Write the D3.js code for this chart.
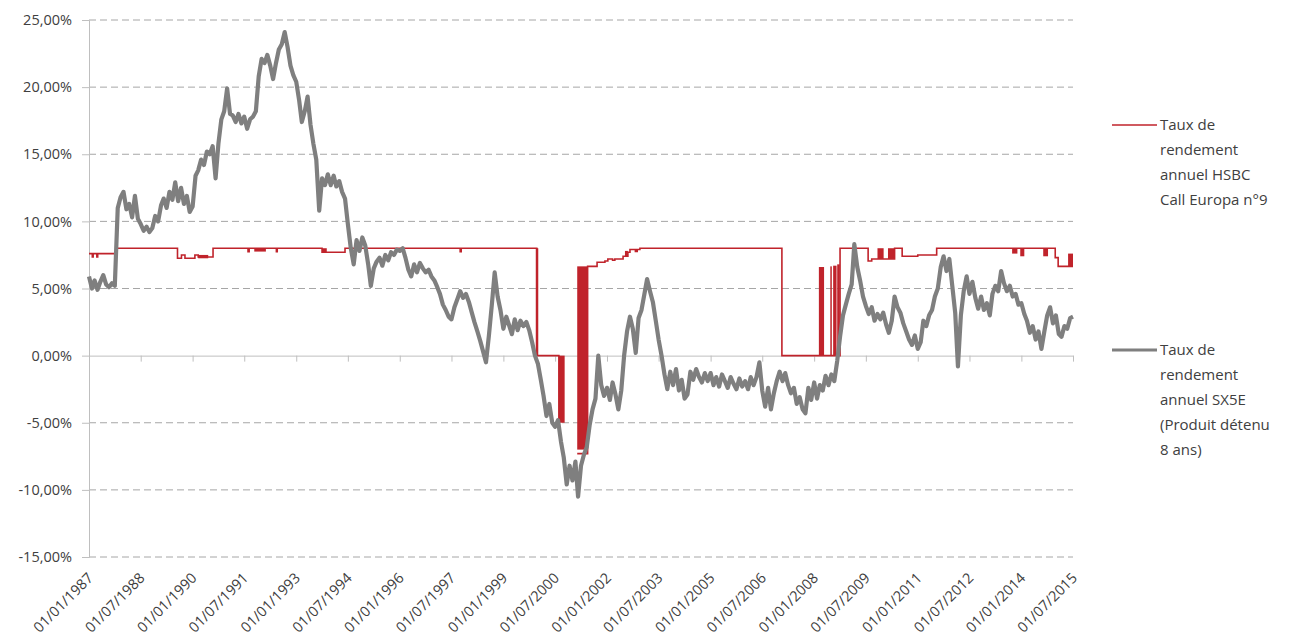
<!DOCTYPE html>
<html>
<head>
<meta charset="utf-8">
<script src="https://cdnjs.cloudflare.com/ajax/libs/d3/7.8.5/d3.min.js"></script>
<style>
  body { margin: 0; background: #ffffff; }
  svg { font-family: 'Open Sans', sans-serif; }
</style>
</head>
<body>
<div id="graph"></div>
<script>
// y ticks (in %) and x tick labels, as printed on the chart
var yTicks = [-15, -10, -5, 0, 5, 10, 15, 20, 25];
var xTickLabels = ["01/01/1987", "01/07/1988", "01/01/1990", "01/07/1991", "01/01/1993",
    "01/07/1994", "01/01/1996", "01/07/1997", "01/01/1999", "01/07/2000", "01/01/2002",
    "01/07/2003", "01/01/2005", "01/07/2006", "01/01/2008", "01/07/2009", "01/01/2011",
    "01/07/2012", "01/01/2014", "01/07/2015"];

// SX5E annual return (%), one value per month starting 01/01/1987
var sx5eStart = "01/01/1987";
var sx5eValues = [
    5.9, 5.0, 5.6, 4.9, 5.5, 6.0, 5.3, 5.1, 5.4, 5.2, 11.0, 11.8,
    12.2, 10.9, 11.3, 10.3, 11.9, 10.2, 9.8, 9.3, 9.6, 9.2, 9.5, 10.4,
    10.0, 11.2, 11.7, 11.0, 12.2, 11.6, 12.9, 11.5, 12.5, 11.3, 11.9, 10.7,
    11.1, 13.4, 13.8, 14.6, 14.2, 15.2, 15.0, 15.6, 13.2, 15.8, 17.6, 18.2,
    19.9, 18.0, 17.9, 17.4, 18.0, 17.3, 17.8, 16.9, 17.6, 17.8, 18.2, 20.8,
    22.1, 21.8, 22.4, 21.6, 20.6, 21.8, 22.8, 23.2, 24.1, 23.0, 21.6, 20.9,
    20.4, 19.0, 17.4, 18.2, 19.3, 17.2, 15.8, 14.6, 10.8, 13.2, 12.7, 13.5,
    12.7, 13.4, 12.6, 13.0, 12.2, 11.7, 9.8, 8.0, 6.8, 8.6, 7.8, 8.8,
    8.2, 6.8, 5.2, 6.5, 7.0, 7.3, 6.7, 7.5, 7.1, 7.7, 7.5, 7.9,
    7.8, 8.0, 7.3, 6.4, 5.9, 6.8, 6.2, 6.9, 6.5, 6.2, 6.4, 5.9,
    5.6, 5.1, 4.6, 3.8, 3.4, 2.9, 2.7, 3.6, 4.2, 4.8, 4.3, 4.6,
    4.0, 3.2, 2.5, 1.8, 1.1, 0.3, -0.5, 1.5, 3.8, 6.2, 4.4, 3.4,
    2.0, 2.9, 2.3, 1.6, 2.7, 1.9, 2.6, 2.2, 2.5, 1.9, 1.0, 0.0,
    -0.6, -1.8, -3.0, -4.5, -3.6, -5.0, -5.3, -4.8, -6.4, -7.6, -9.6, -8.2,
    -9.3, -7.9, -10.5, -8.2, -7.4, -6.8, -5.2, -4.0, -3.2, 0.0, -2.2, -3.0,
    -2.4, -3.3, -2.0, -2.9, -4.0, -2.6, 0.0, 1.8, 2.9, 2.0, 0.2, 2.8,
    3.4, 4.6, 5.7, 4.8, 4.0, 2.6, 1.2, 0.0, -1.4, -2.5, -1.2, -2.2,
    -1.0, -2.6, -1.8, -3.2, -2.9, -1.2, -1.8, -1.0, -1.6, -2.0, -1.3, -1.9,
    -1.3, -2.2, -1.6, -2.3, -1.4, -1.9, -2.4, -1.6, -2.1, -2.5, -1.7, -2.3,
    -1.9, -2.5, -1.6, -2.2, -1.6, -0.5, -2.6, -3.8, -2.4, -4.0, -2.8, -1.9,
    -1.2, -1.9, -1.3, -2.2, -2.8, -2.4, -3.6, -3.1, -4.0, -4.3, -2.4, -3.3,
    -2.0, -3.2, -2.2, -2.6, -1.5, -2.2, -1.4, -1.9, -0.4, 1.4, 3.0, 3.8,
    4.6, 5.3, 8.3, 6.6, 5.6, 4.4, 3.7, 3.1, 3.6, 2.6, 3.1, 2.7,
    3.2, 2.3, 1.7, 2.6, 4.4, 3.6, 3.2, 2.4, 1.8, 1.2, 0.8, 1.5,
    0.5, 1.0, 2.6, 2.2, 3.0, 3.4, 4.4, 5.0, 6.6, 7.4, 6.3, 7.2,
    5.2, 3.2, -0.8, 3.0, 4.8, 5.9, 4.6, 5.5, 4.3, 3.5, 4.4, 3.4,
    3.9, 3.0, 4.6, 5.2, 4.8, 6.3, 5.4, 4.8, 5.2, 4.4, 4.6, 3.8,
    3.9, 3.1, 2.6, 1.7, 2.2, 1.2, 1.8, 0.5, 1.8, 3.0, 3.6, 2.4,
    3.0, 1.6, 1.4, 2.2, 2.0, 2.8, 2.9
];

// HSBC Call Europa n°9 : step levels [date, %]; null = hidden under the SX5E line
var hsbcSteps = [
    ["01/01/1987", 7.6], ["05/02/1987", 7.35], ["14/02/1987", 7.6], ["25/03/1987", 7.35],
    ["03/04/1987", 7.6], ["20/10/1987", 8.0], ["25/07/1989", 7.25], ["05/09/1989", 7.5],
    ["12/10/1989", 7.25], ["25/01/1990", 7.5], ["01/03/1990", 7.35], ["05/08/1990", 8.0],
    ["10/08/1991", 7.75], ["22/08/1991", 8.0], ["05/06/1992", 7.75], ["14/06/1992", 8.0],
    ["01/10/1993", 7.7], ["01/06/1994", 8.0], ["01/10/1997", 7.75], ["12/10/1997", 8.0],
    ["20/12/1999", 0.0], ["10/08/2000", -5.0], ["10/10/2000", null],
    ["20/02/2001", -7.3],
    ["10/06/2001", 6.65], ["18/09/2001", 6.95], ["10/12/2001", 7.05], ["10/01/2002", 7.2],
    ["01/03/2002", 7.1], ["25/03/2002", 7.2], ["20/06/2002", 7.4], ["10/08/2002", 7.7],
    ["01/09/2002", 7.9], ["15/12/2002", 8.0], ["25/01/2007", 0.0], ["01/10/2008", 8.0],
    ["25/07/2009", 7.05], ["01/09/2009", 7.2], ["01/05/2010", 8.0], ["20/07/2010", 7.4],
    ["01/01/2011", 7.5], ["20/07/2011", 8.0], ["25/12/2014", 7.3], ["25/01/2015", 6.65],
    ["01/07/2015", 6.65]
];

// periods where the HSBC return flips daily between two levels [start, end, low, high]
var hsbcBands = [
    ["01/03/1990", "15/06/1990", 7.25, 7.5],
    ["15/10/1991", "15/02/1992", 7.75, 8.0],
    ["01/10/1993", "20/11/1993", 7.7, 8.0],
    ["10/12/1999", "05/01/2000", 0.0, 8.0],
    ["10/08/2000", "10/10/2000", -5.0, 0.0],
    ["20/02/2001", "10/06/2001", -7.0, 6.65],
    ["10/07/2002", "10/08/2002", 7.4, 7.8],
    ["20/10/2002", "25/11/2002", 7.7, 7.9],
    ["20/02/2008", "15/04/2008", 0.0, 6.6],
    ["20/06/2008", "05/07/2008", 0.0, 6.65],
    ["20/07/2008", "25/08/2008", 0.0, 6.7],
    ["01/09/2008", "28/09/2008", 0.0, 6.8],
    ["01/11/2009", "05/01/2010", 7.2, 8.0],
    ["20/02/2010", "01/05/2010", 7.2, 8.0],
    ["25/09/2013", "20/11/2013", 7.6, 8.0],
    ["20/12/2013", "01/02/2014", 7.4, 8.0],
    ["20/08/2014", "10/10/2014", 7.4, 8.0],
    ["10/05/2015", "01/07/2015", 6.65, 7.6]
];

var legendHsbc = ["Taux de", "rendement", "annuel HSBC", "Call Europa n°9"];
var legendSx5e = ["Taux de", "rendement", "annuel SX5E", "(Produit détenu", "8 ans)"];

var redColor = "#c0232b";
var greyColor = "#7f7f7f";

function draw() {
    var parseDate = d3.timeParse("%d/%m/%Y");
    var width = 1295, height = 643;
    var plot = {left: 89, right: 1073, top: 20, bottom: 557};

    var svg = d3.select("#graph").append("svg")
        .attr("width", width)
        .attr("height", height);

    var x = d3.scaleTime()
        .domain([parseDate(xTickLabels[0]), parseDate(xTickLabels[xTickLabels.length - 1])])
        .range([plot.left, plot.right]);
    var y = d3.scaleLinear()
        .domain([yTicks[0], yTicks[yTicks.length - 1]])
        .range([plot.bottom, plot.top]);

    // dashed gridlines
    svg.append("g").selectAll("line")
        .data(yTicks.filter(d => d !== 0))
        .join("line")
        .attr("x1", plot.left).attr("x2", plot.right)
        .attr("y1", d => y(d)).attr("y2", d => y(d))
        .style("stroke", "#a6a6a6")
        .style("stroke-width", 1)
        .style("stroke-dasharray", "7,4");

    // y axis
    var yAxis = svg.append("g")
        .attr("transform", "translate(" + plot.left + ",0)")
        .call(d3.axisLeft(y).tickValues(yTicks).tickSize(7).tickPadding(10)
            .tickFormat(d => d.toFixed(2).replace(".", ",") + "%"));
    yAxis.selectAll("path, line").style("stroke", "#bfbfbf");
    yAxis.selectAll("text").style("font-size", "14.5px").style("fill", "#404040")
        .style("font-family", "'Open Sans', sans-serif");

    // x axis on the zero line
    var xTicks = xTickLabels.map(parseDate);
    var xAxis = svg.append("g")
        .attr("transform", "translate(0," + y(0) + ")")
        .call(d3.axisBottom(x).tickValues(xTicks).tickSize(6).tickSizeOuter(0).tickFormat(""));
    xAxis.selectAll("path, line").style("stroke", "#bfbfbf");

    // rotated date labels below the plot
    svg.append("g").selectAll("text")
        .data(xTicks)
        .join("text")
        .attr("transform", (d, i) => "translate(" + (x(d) + 5) + "," + (plot.bottom + 22) + ") rotate(-45)")
        .attr("text-anchor", "end")
        .style("font-size", "14.5px")
        .style("fill", "#404040")
        .text((d, i) => xTickLabels[i]);

    // HSBC series: flip bands then step line
    svg.append("g").selectAll("rect")
        .data(hsbcBands)
        .join("rect")
        .attr("x", d => x(parseDate(d[0])))
        .attr("width", d => Math.max(1.5, x(parseDate(d[1])) - x(parseDate(d[0]))))
        .attr("y", d => y(d[3]))
        .attr("height", d => y(d[2]) - y(d[3]))
        .style("fill", redColor);

    var stepLine = d3.line()
        .defined(d => d[1] !== null)
        .x(d => x(parseDate(d[0])))
        .y(d => y(d[1]))
        .curve(d3.curveStepAfter);
    svg.append("path")
        .datum(hsbcSteps)
        .attr("d", stepLine)
        .style("fill", "none")
        .style("stroke", redColor)
        .style("stroke-width", 1.6);

    // SX5E series
    var start = parseDate(sx5eStart);
    var sx5e = sx5eValues.map((v, i) => ({date: d3.timeMonth.offset(start, i), value: v}));
    var greyLine = d3.line()
        .x(d => x(d.date))
        .y(d => y(d.value));
    svg.append("path")
        .datum(sx5e)
        .attr("d", greyLine)
        .style("fill", "none")
        .style("stroke", greyColor)
        .style("stroke-width", 4.2)
        .style("stroke-linejoin", "round");

    // legend
    var legends = [
        {lines: legendHsbc, color: redColor, width: 1.6, y: 125},
        {lines: legendSx5e, color: greyColor, width: 3.2, y: 350}
    ];
    legends.forEach(item => {
        svg.append("line")
            .attr("x1", 1112).attr("x2", 1157)
            .attr("y1", item.y).attr("y2", item.y)
            .style("stroke", item.color)
            .style("stroke-width", item.width);
        var t = svg.append("text")
            .attr("x", 1160)
            .attr("y", item.y + 5)
            .style("font-size", "15px")
            .style("fill", "#404040");
        item.lines.forEach((line, i) => {
            t.append("tspan")
                .attr("x", 1160)
                .attr("dy", i === 0 ? 0 : 25)
                .text(line);
        });
    });
}

window.addEventListener('DOMContentLoaded', draw);
</script>
</body>
</html>
